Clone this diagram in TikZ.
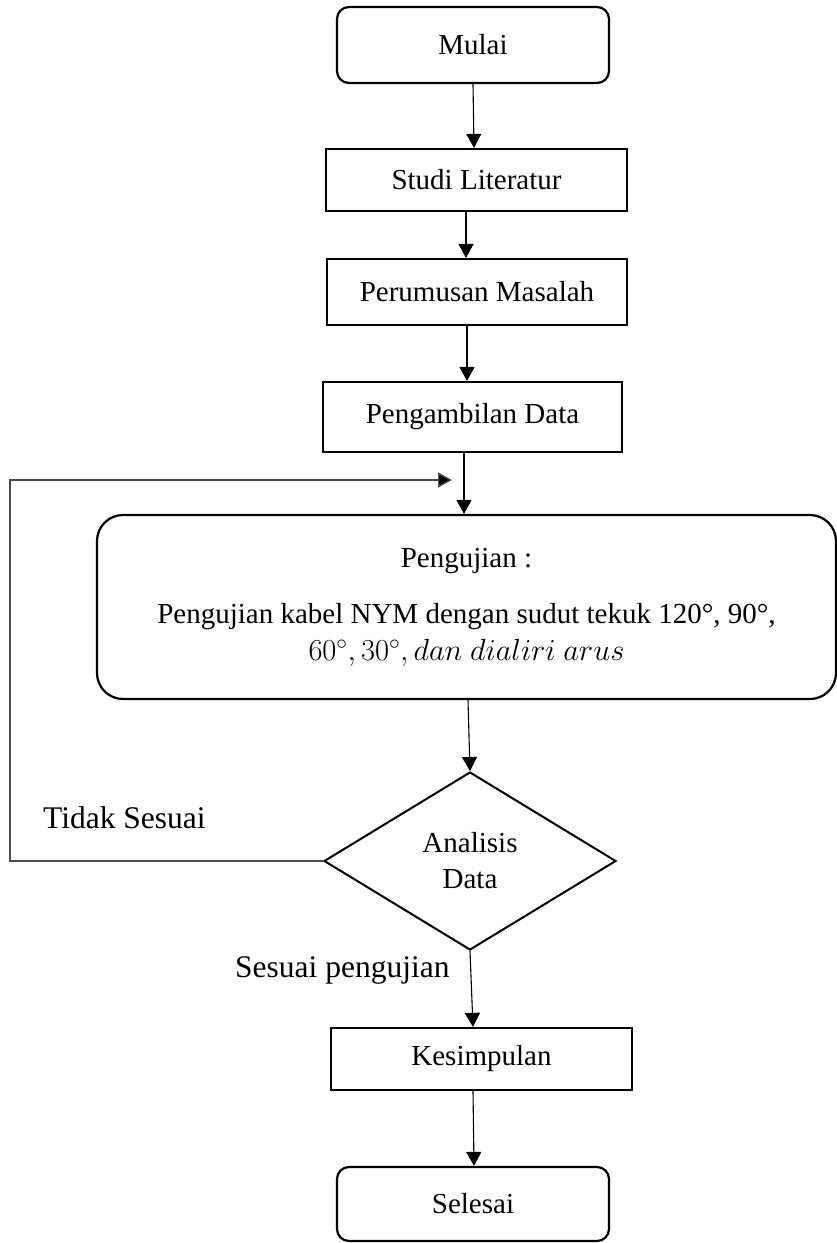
\RequirePackage{fix-cm}
\documentclass[tikz,border=0pt]{standalone}
\usepackage{fontspec}
\setmainfont{Liberation Serif}
\usetikzlibrary{shapes.geometric,arrows.meta}
\begin{document}
\begin{tikzpicture}[x=1pt,y=-1pt,
  procbox/.style={draw, line width=2.2pt, inner sep=0pt, align=center, font=\fontsize{29}{36}\selectfont},
  termbox/.style={procbox, rounded corners=12pt},
  decbox/.style={procbox, diamond, line width=2pt},
  lbl/.style={anchor=base west, inner sep=0pt, font=\fontsize{31.5}{37}\selectfont},
  arr/.style={line width=1.1pt, -{Triangle[length=14pt,width=15pt]}},
  fbline/.style={line width=1.4pt, draw=black!70, -{Triangle[length=14pt,width=15pt,fill=black]}}]
\useasboundingbox (0,0) rectangle (837,1243);

\node[termbox, minimum width=272pt, minimum height=76pt] (mulai) at (473,45) {Mulai};
\node[procbox, minimum width=301pt, minimum height=62pt] (studi) at (476.5,180) {Studi Literatur};
\node[procbox, minimum width=300pt, minimum height=66pt] (perumusan) at (477,292) {Perumusan Masalah};
\node[procbox, minimum width=299pt, minimum height=70pt] (pengambilan) at (472.5,417) {Pengambilan Data};
\node[procbox, rounded corners=26pt, minimum width=739pt, minimum height=184pt] (pengujian) at (466.5,607)
  {Pengujian :\\[20pt] Pengujian kabel NYM dengan sudut tekuk 120°, 90°,\\[1pt] {\fontsize{30.5}{36}\selectfont $60^\circ, 30^\circ, dan\ dialiri\ arus$}};
\node[decbox, minimum width=292pt, minimum height=178pt] (analisis) at (470,861) {Analisis\\Data};
\node[procbox, minimum width=301pt, minimum height=62pt] (kesimpulan) at (481.5,1059) {Kesimpulan};
\node[termbox, minimum width=272pt, minimum height=74pt] (selesai) at (473,1204) {Selesai};

\node[lbl] (tidak) at (43,828) {Tidak Sesuai};
\node[lbl] (sesuai) at (235,977) {Sesuai pengujian};

\draw[arr] (mulai.south) -- ([xshift=-2.5pt]studi.north);
\draw[arr] ([xshift=-10.5pt]studi.south) -- ([xshift=-11pt]perumusan.north);
\draw[arr] ([xshift=-10pt]perumusan.south) -- ([xshift=-5.5pt]pengambilan.north);
\draw[arr] ([xshift=-8.5pt]pengambilan.south) -- ([xshift=-2.5pt]pengujian.north);
\draw[arr] ([xshift=1.5pt]pengujian.south) -- (analisis.north);
\draw[arr] (analisis.south) -- ([xshift=-8.5pt]kesimpulan.north);
\draw[arr] ([xshift=-8.5pt]kesimpulan.south) -- ([xshift=1pt]selesai.north);

\coordinate (fbtop) at (10,480);
\coordinate (fbend) at (452,480);
\draw[fbline] (analisis.west) -| (fbtop) -- (fbend);
\end{tikzpicture}
\end{document}
